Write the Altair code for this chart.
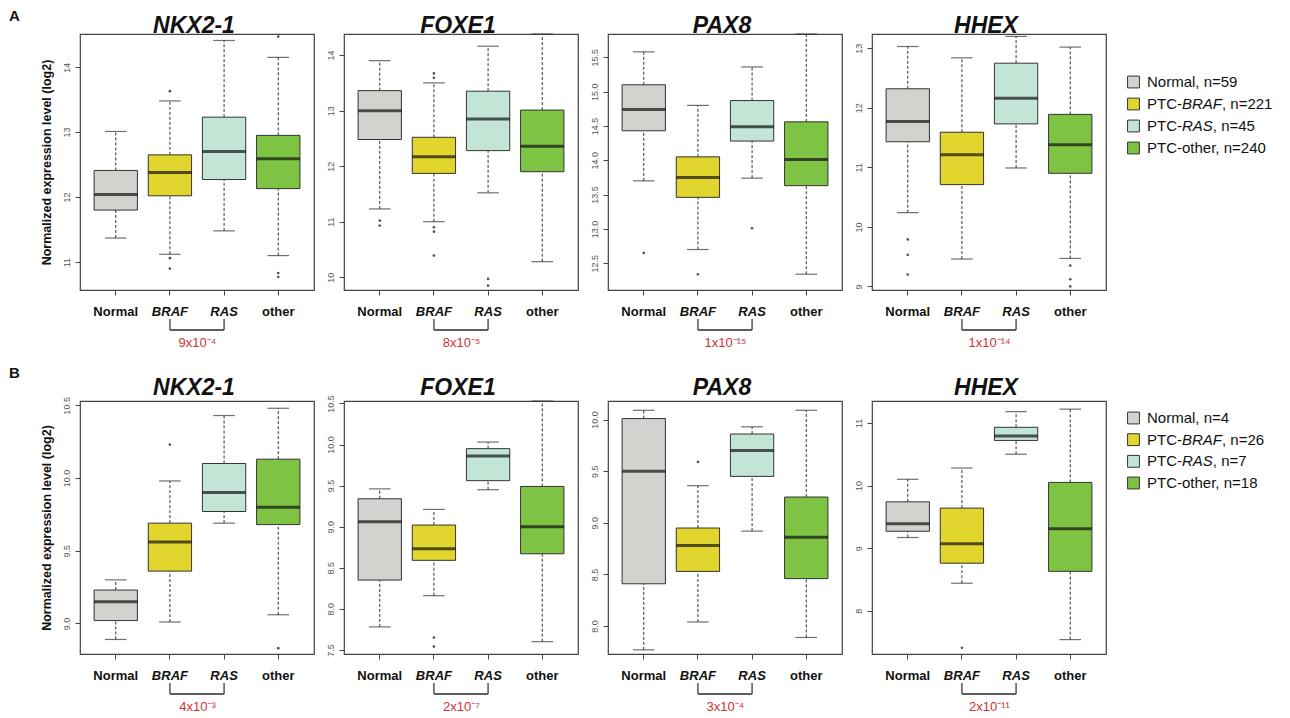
import altair as alt
import pandas as pd

FONT = "Liberation Sans"
GROUPS = ["Normal", "BRAF", "RAS", "other"]
GENES = ["NKX2-1", "FOXE1", "PAX8", "HHEX"]
COLORS = ["#D2D2CE", "#E2D52E", "#C2E5D6", "#7EC343"]
BRACKET = ["BRAF", "RAS"]

# ---------------- Panel A ----------------
A_WLO = {"NKX2-1": [11.37, 11.12, 11.48, 11.10], "FOXE1": [11.23, 11.00, 11.52, 10.28],
         "PAX8": [13.70, 12.70, 13.74, 12.34], "HHEX": [10.24, 9.46, 10.99, 9.47]}
A_Q1 = {"NKX2-1": [11.80, 12.02, 12.27, 12.13], "FOXE1": [12.48, 11.87, 12.28, 11.90],
        "PAX8": [14.43, 13.46, 14.28, 13.63], "HHEX": [11.43, 10.71, 11.73, 10.90]}
A_MED = {"NKX2-1": [12.04, 12.38, 12.70, 12.59], "FOXE1": [13.00, 12.17, 12.85, 12.36],
         "PAX8": [14.74, 13.75, 14.49, 14.01], "HHEX": [11.77, 11.21, 12.16, 11.38]}
A_Q3 = {"NKX2-1": [12.41, 12.65, 13.23, 12.95], "FOXE1": [13.36, 12.52, 13.35, 13.01],
        "PAX8": [15.10, 14.05, 14.87, 14.56], "HHEX": [12.32, 11.59, 12.75, 11.89]}
A_WHI = {"NKX2-1": [13.01, 13.48, 14.41, 14.15], "FOXE1": [13.90, 13.50, 14.16, 14.38],
         "PAX8": [15.58, 14.80, 15.36, 15.84], "HHEX": [13.03, 12.84, 13.20, 13.02]}
A_OUT = {"NKX2-1": {"BRAF": [13.63, 11.06, 10.90], "other": [14.47, 10.83, 10.77]},
         "FOXE1": {"Normal": [11.02, 10.93], "BRAF": [13.67, 13.59, 10.90, 10.82, 10.39], "RAS": [9.97, 9.85]},
         "PAX8": {"Normal": [12.65], "BRAF": [12.34], "RAS": [13.01]},
         "HHEX": {"Normal": [9.79, 9.53, 9.20], "other": [9.35, 9.12, 9.00]}}
A_YLIM = {"NKX2-1": [10.57, 14.51], "FOXE1": [9.77, 14.38], "PAX8": [12.11, 15.84], "HHEX": [8.94, 13.24]}
A_TICKS = {"NKX2-1": [11, 12, 13, 14], "FOXE1": [10, 11, 12, 13, 14],
           "PAX8": [12.5, 13.0, 13.5, 14.0, 14.5, 15.0, 15.5], "HHEX": [9, 10, 11, 12, 13]}
A_FMT = {"NKX2-1": "d", "FOXE1": "d", "PAX8": ".1f", "HHEX": "d"}
A_PVAL = ["9x10\u207b\u2074", "8x10\u207b\u2075", "1x10\u207b\u00b9\u2075", "1x10\u207b\u00b9\u2074"]
A_N = [59, 221, 45, 240]

# ---------------- Panel B ----------------
B_WLO = {"NKX2-1": [8.89, 9.01, 9.69, 9.06], "FOXE1": [7.78, 8.16, 9.45, 7.60],
         "PAX8": [7.77, 8.04, 8.92, 7.89], "HHEX": [9.17, 8.44, 10.50, 7.54]}
B_Q1 = {"NKX2-1": [9.02, 9.36, 9.77, 9.68], "FOXE1": [8.35, 8.59, 9.56, 8.67],
        "PAX8": [8.41, 8.53, 9.45, 8.46], "HHEX": [9.27, 8.76, 10.72, 8.63]}
B_MED = {"NKX2-1": [9.15, 9.56, 9.90, 9.80], "FOXE1": [9.06, 8.73, 9.86, 9.00],
         "PAX8": [9.50, 8.78, 9.70, 8.86], "HHEX": [9.39, 9.07, 10.79, 9.31]}
B_Q3 = {"NKX2-1": [9.23, 9.69, 10.10, 10.13], "FOXE1": [9.34, 9.02, 9.95, 9.49],
        "PAX8": [10.01, 8.95, 9.86, 9.25], "HHEX": [9.74, 9.64, 10.93, 10.05]}
B_WHI = {"NKX2-1": [9.30, 9.98, 10.43, 10.48], "FOXE1": [9.46, 9.21, 10.03, 10.53],
         "PAX8": [10.09, 9.36, 9.93, 10.09], "HHEX": [10.10, 10.28, 11.18, 11.22]}
B_OUT = {"NKX2-1": {"BRAF": [10.23], "other": [8.83]},
         "FOXE1": {"BRAF": [7.65, 7.54]},
         "PAX8": {"BRAF": [9.59]},
         "HHEX": {"BRAF": [7.41]}}
B_YLIM = {"NKX2-1": [8.79, 10.53], "FOXE1": [7.45, 10.53], "PAX8": [7.73, 10.18], "HHEX": [7.31, 11.35]}
B_TICKS = {"NKX2-1": [9.0, 9.5, 10.0, 10.5], "FOXE1": [7.5, 8.0, 8.5, 9.0, 9.5, 10.0, 10.5],
           "PAX8": [8.0, 8.5, 9.0, 9.5, 10.0], "HHEX": [8, 9, 10, 11]}
B_FMT = {"NKX2-1": ".1f", "FOXE1": ".1f", "PAX8": ".1f", "HHEX": "d"}
B_PVAL = ["4x10\u207b\u00b3", "2x10\u207b\u2077", "3x10\u207b\u2074", "2x10\u207b\u00b9\u00b9"]
B_N = [4, 26, 7, 18]

W = 234
HA, HB = 256, 253
STEP = W / 4.32
BOX_W = 0.8 * STEP
CAP_W = 0.5 * BOX_W

COLOR = alt.Color("group:N", scale=alt.Scale(domain=GROUPS, range=COLORS), legend=None)


def panel(gene, wlo, q1, med, q3, whi, outl, ylim, ticks, fmt, pval, H, first, tag, tag_y, title_y):
    df = pd.DataFrame({"group": GROUPS, "wlo": wlo, "q1": q1, "med": med, "q3": q3, "whi": whi})
    rows = [(g, v) for g in GROUPS for v in outl.get(g, [])]
    od = pd.DataFrame(rows, columns=["group", "val"])
    xscale = alt.Scale(domain=GROUPS, paddingInner=0.2, paddingOuter=0.26)
    xaxis = alt.Axis(
        title=pval, titleColor="#CC3333", titleFontSize=13, titleFontWeight="normal",
        titlePadding=18, labelAngle=0, labelFontSize=13, labelFontWeight="bold",
        labelColor="#111", labelPadding=10, tickSize=5, tickColor="#444", domain=False,
        labelFontStyle={"condition": {"test": "datum.value == 'BRAF' || datum.value == 'RAS'",
                                      "value": "italic"}, "value": "normal"})
    X = alt.X("group:N", scale=xscale, axis=xaxis)
    yscale = alt.Scale(domain=ylim, nice=False, zero=False)
    yaxis = alt.Axis(values=ticks, format=fmt,
                     title="Normalized expression level (log2)" if first else None,
                     titleFontSize=12.5, titleFontWeight="bold", titleColor="#111", titlePadding=9,
                     labelAngle=270, labelAlign="center", labelBaseline="bottom",
                     labelFontSize=9, labelColor="#555", labelPadding=4,
                     tickSize=5, tickColor="#444", domain=False, grid=False)

    def Y(f):
        return alt.Y(f"{f}:Q", scale=yscale, axis=yaxis)

    base = alt.Chart(df)
    lo = base.mark_rule(color="#333", strokeWidth=1, strokeDash=[3, 2]).encode(x=X, y=Y("wlo"), y2="q1")
    hi = base.mark_rule(color="#333", strokeWidth=1, strokeDash=[3, 2]).encode(x=X, y=Y("q3"), y2="whi")
    cap_lo = base.mark_tick(color="#333", size=CAP_W, thickness=1.2).encode(x=X, y=Y("wlo"))
    cap_hi = base.mark_tick(color="#333", size=CAP_W, thickness=1.2).encode(x=X, y=Y("whi"))
    box = base.mark_bar(stroke="#333", strokeWidth=1).encode(x=X, y=Y("q1"), y2="q3", color=COLOR)
    medl = base.mark_tick(color="#111", size=BOX_W, thickness=3).encode(x=X, y=Y("med"))
    pts = alt.Chart(od).mark_circle(size=7, color="#555", opacity=1).encode(x=X, y=Y("val"))
    brdf = pd.DataFrame({"group": BRACKET})
    br_v = alt.Chart(brdf).mark_rule(color="#555", strokeWidth=1.5).encode(
        x=X, y=alt.value(H + 29), y2=alt.value(H + 40))
    br_h = alt.Chart(brdf).mark_rule(color="#555", strokeWidth=1.5).encode(
        x=alt.XDatum(BRACKET[0], type="nominal", bandPosition=0.5),
        x2=alt.X2Datum(BRACKET[1], bandPosition=0.5),
        y=alt.value(H + 40))
    ttl = alt.Chart(pd.DataFrame({"t": [gene]})).mark_text(
        fontSize=23, fontStyle="italic", fontWeight="bold", align="center",
        baseline="alphabetic", color="#111"
    ).encode(text="t:N", x=alt.value(W / 2 - 3), y=alt.value(title_y))
    layers = [lo, hi, cap_lo, cap_hi, box, medl, pts, br_v, br_h, ttl]
    if first:
        tg = alt.Chart(pd.DataFrame({"t": [tag]})).mark_text(
            fontSize=15, fontWeight="bold", align="left", baseline="top", color="#111"
        ).encode(text="t:N", x=alt.value(-71), y=alt.value(tag_y))
        layers.append(tg)
    return alt.layer(*layers).properties(width=W, height=H)


def legend(ns, rng, H):
    ysc = alt.Scale(type="point", domain=GROUPS, range=rng, padding=0)
    Yl = alt.Y("group:N", scale=ysc, axis=None)
    TX = 11
    w_ptc = 35.0
    w_it = {"BRAF": 40.0, "RAS": 30.8}
    df = pd.DataFrame({"group": GROUPS,
                       "lead": [f"Normal, n={ns[0]}", "PTC-", "PTC-", f"PTC-other, n={ns[3]}"]})
    sq = alt.Chart(df).mark_square(size=140, filled=True, opacity=1, stroke="#333",
                                   strokeWidth=1).encode(y=Yl, x=alt.value(-2.5), color=COLOR)
    tstyle = dict(align="left", baseline="middle", fontSize=15, color="#111")
    t1 = alt.Chart(df).mark_text(**tstyle).encode(y=Yl, x=alt.value(TX), text="lead:N")
    it = pd.DataFrame({"group": BRACKET, "t": BRACKET})
    t2 = alt.Chart(it).mark_text(fontStyle="italic", **tstyle).encode(
        y=Yl, x=alt.value(TX + w_ptc), text="t:N")
    layers = [sq, t1, t2]
    for g, n in zip(BRACKET, ns[1:3]):
        d = pd.DataFrame({"group": [g], "t": [f", n={n}"]})
        layers.append(alt.Chart(d).mark_text(**tstyle).encode(
            y=Yl, x=alt.value(TX + w_ptc + w_it[g]), text="t:N"))
    return alt.layer(*layers).properties(
        width=140, height=H, view=alt.ViewBackground(stroke="transparent"))


cells = []
for i, g in enumerate(GENES):
    cells.append(panel(g, A_WLO[g], A_Q1[g], A_MED[g], A_Q3[g], A_WHI[g], A_OUT[g], A_YLIM[g],
                       A_TICKS[g], A_FMT[g], A_PVAL[i], HA, i == 0, "A", -25, -1))
cells.append(legend(A_N, [48, 114], HA))
for i, g in enumerate(GENES):
    cells.append(panel(g, B_WLO[g], B_Q1[g], B_MED[g], B_Q3[g], B_WHI[g], B_OUT[g], B_YLIM[g],
                       B_TICKS[g], B_FMT[g], B_PVAL[i], HB, i == 0, "B", -35, -6))
cells.append(legend(B_N, [17, 82], HB))

chart = alt.concat(*cells, columns=5, spacing={"row": 111, "column": 30}, bounds="flush").properties(
    padding=0
).configure(font=FONT).configure_view(stroke="#444", strokeWidth=1.2)

chart.save("out.html", embed_options={"renderer": "svg", "actions": False})
